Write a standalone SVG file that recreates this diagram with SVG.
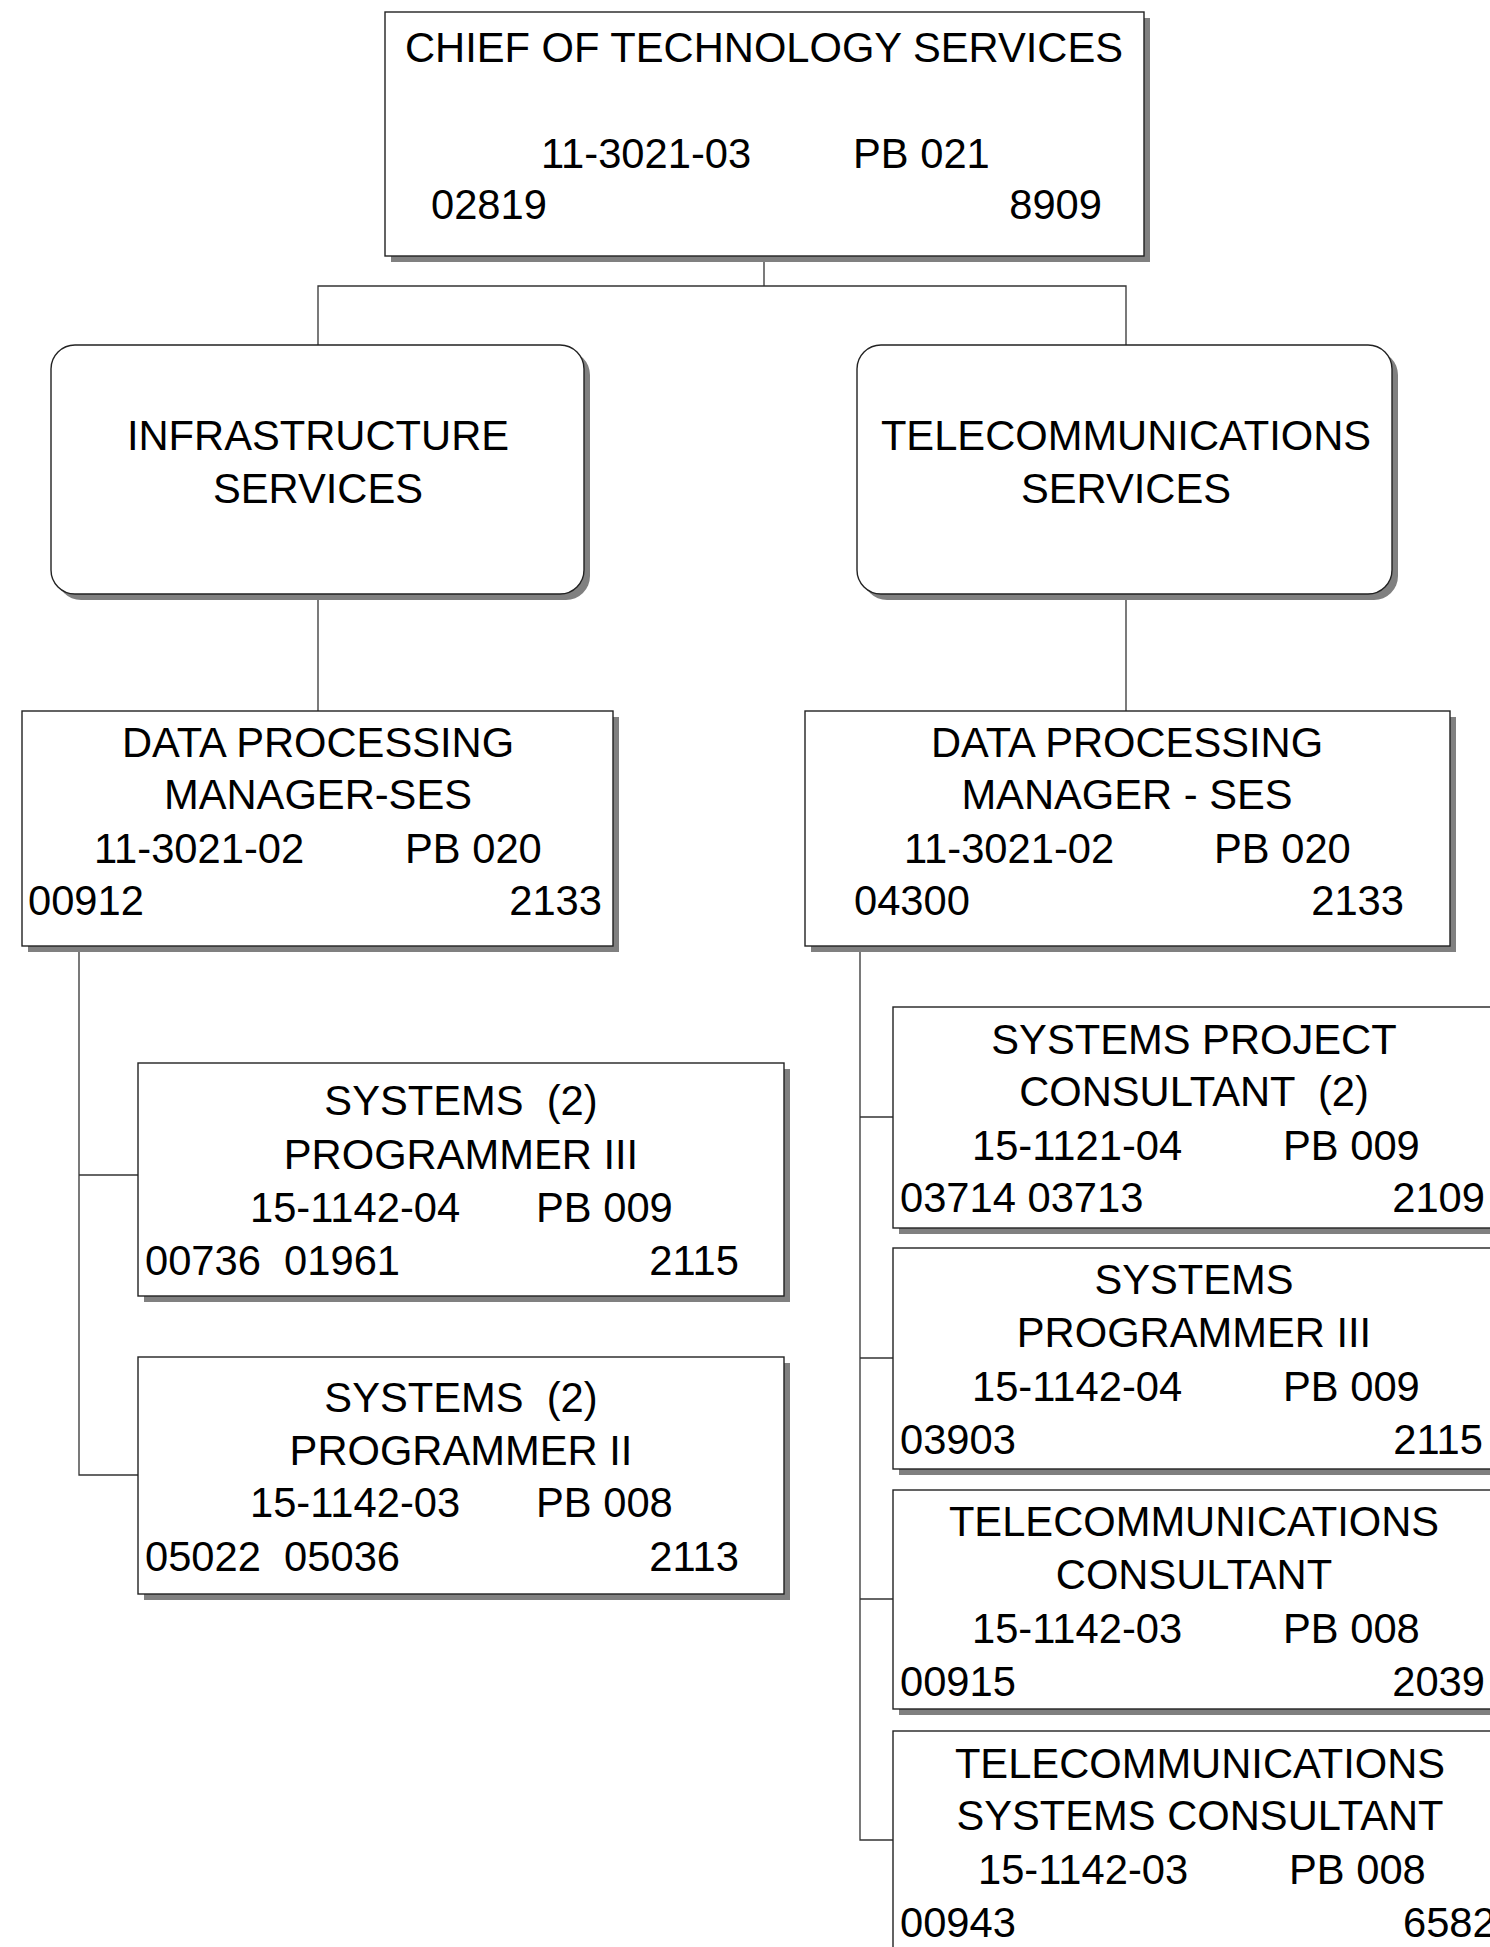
<svg xmlns="http://www.w3.org/2000/svg" width="1490" height="1947" viewBox="0 0 1490 1947">
  <style>
    .shadow { fill: #808080; stroke: none; }
    .box { fill: #ffffff; stroke: #222222; stroke-width: 1.4; }
    .link { fill: none; stroke: #333333; stroke-width: 1.3; }
    text { font-family: "Liberation Sans", Arial, sans-serif; font-size: 41.7px; fill: #000000; }
    .c { text-anchor: middle; }
    .r { text-anchor: end; }
  </style>
  <rect width="1490" height="1947" fill="#ffffff"/>

  <!-- reporting lines -->
  <g id="connectors">
    <polyline class="link" points="764,256 764,286"/>
    <polyline class="link" points="318,345 318,286 1126,286 1126,345"/>
    <polyline class="link" points="318,594 318,711"/>
    <polyline class="link" points="1126,594 1126,711"/>
    <polyline class="link" points="79,946 79,1475 138,1475"/>
    <polyline class="link" points="79,1175 138,1175"/>
    <polyline class="link" points="860,946 860,1840 893,1840"/>
    <polyline class="link" points="860,1117 893,1117"/>
    <polyline class="link" points="860,1358 893,1358"/>
    <polyline class="link" points="860,1599 893,1599"/>
  </g>

  <g id="chief-technology-services">
    <rect class="shadow" x="391" y="18" width="759" height="244"/>
    <rect class="box" x="385" y="12" width="759" height="244"/>
    <text class="c" x="764" y="62">CHIEF OF TECHNOLOGY SERVICES</text>
    <text x="541" y="168">11-3021-03</text>
    <text x="853" y="168">PB 021</text>
    <text x="431" y="219">02819</text>
    <text class="r" x="1102" y="219">8909</text>
  </g>

  <g id="infrastructure-services">
    <rect class="shadow" x="57" y="351" width="533" height="249" rx="24"/>
    <rect class="box" x="51" y="345" width="533" height="249" rx="24"/>
    <text class="c" x="318" y="450">INFRASTRUCTURE</text>
    <text class="c" x="318" y="503">SERVICES</text>
  </g>

  <g id="telecommunications-services">
    <rect class="shadow" x="863" y="351" width="535" height="249" rx="24"/>
    <rect class="box" x="857" y="345" width="535" height="249" rx="24"/>
    <text class="c" x="1126" y="450">TELECOMMUNICATIONS</text>
    <text class="c" x="1126" y="503">SERVICES</text>
  </g>

  <g id="dp-manager-infrastructure">
    <rect class="shadow" x="28" y="717" width="591" height="235"/>
    <rect class="box" x="22" y="711" width="591" height="235"/>
    <text class="c" x="318" y="757">DATA PROCESSING</text>
    <text class="c" x="318" y="809">MANAGER-SES</text>
    <text x="94" y="863">11-3021-02</text>
    <text x="405" y="863">PB 020</text>
    <text x="28" y="915">00912</text>
    <text class="r" x="602" y="915">2133</text>
  </g>

  <g id="dp-manager-telecom">
    <rect class="shadow" x="811" y="717" width="645" height="235"/>
    <rect class="box" x="805" y="711" width="645" height="235"/>
    <text class="c" x="1127" y="757">DATA PROCESSING</text>
    <text class="c" x="1127" y="809">MANAGER - SES</text>
    <text x="904" y="863">11-3021-02</text>
    <text x="1214" y="863">PB 020</text>
    <text x="854" y="915">04300</text>
    <text class="r" x="1404" y="915">2133</text>
  </g>

  <g id="systems-programmer-iii-infra">
    <rect class="shadow" x="144" y="1069" width="646" height="233"/>
    <rect class="box" x="138" y="1063" width="646" height="233"/>
    <text class="c" x="461" y="1115" xml:space="preserve">SYSTEMS  (2)</text>
    <text class="c" x="461" y="1169">PROGRAMMER III</text>
    <text x="250" y="1222">15-1142-04</text>
    <text x="536" y="1222">PB 009</text>
    <text x="145" y="1275" xml:space="preserve">00736  01961</text>
    <text class="r" x="739" y="1275">2115</text>
  </g>

  <g id="systems-programmer-ii-infra">
    <rect class="shadow" x="144" y="1363" width="646" height="237"/>
    <rect class="box" x="138" y="1357" width="646" height="237"/>
    <text class="c" x="461" y="1412" xml:space="preserve">SYSTEMS  (2)</text>
    <text class="c" x="461" y="1465">PROGRAMMER II</text>
    <text x="250" y="1517">15-1142-03</text>
    <text x="536" y="1517">PB 008</text>
    <text x="145" y="1571" xml:space="preserve">05022  05036</text>
    <text class="r" x="739" y="1571">2113</text>
  </g>

  <g id="systems-project-consultant">
    <rect class="shadow" x="899" y="1013" width="607" height="221"/>
    <rect class="box" x="893" y="1007" width="607" height="221"/>
    <text class="c" x="1194" y="1054">SYSTEMS PROJECT</text>
    <text class="c" x="1194" y="1106" xml:space="preserve">CONSULTANT  (2)</text>
    <text x="972" y="1160">15-1121-04</text>
    <text x="1283" y="1160">PB 009</text>
    <text x="900" y="1212">03714 03713</text>
    <text class="r" x="1485" y="1212">2109</text>
  </g>

  <g id="systems-programmer-iii-telecom">
    <rect class="shadow" x="899" y="1254" width="607" height="221"/>
    <rect class="box" x="893" y="1248" width="607" height="221"/>
    <text class="c" x="1194" y="1294">SYSTEMS</text>
    <text class="c" x="1194" y="1347">PROGRAMMER III</text>
    <text x="972" y="1401">15-1142-04</text>
    <text x="1283" y="1401">PB 009</text>
    <text x="900" y="1454">03903</text>
    <text class="r" x="1483" y="1454">2115</text>
  </g>

  <g id="telecommunications-consultant">
    <rect class="shadow" x="899" y="1496" width="607" height="219"/>
    <rect class="box" x="893" y="1490" width="607" height="219"/>
    <text class="c" x="1194" y="1536">TELECOMMUNICATIONS</text>
    <text class="c" x="1194" y="1589">CONSULTANT</text>
    <text x="972" y="1643">15-1142-03</text>
    <text x="1283" y="1643">PB 008</text>
    <text x="900" y="1696">00915</text>
    <text class="r" x="1485" y="1696">2039</text>
  </g>

  <g id="telecommunications-systems-consultant">
    <rect class="shadow" x="899" y="1737" width="620" height="230"/>
    <rect class="box" x="893" y="1731" width="620" height="230"/>
    <text class="c" x="1200" y="1778">TELECOMMUNICATIONS</text>
    <text class="c" x="1200" y="1830">SYSTEMS CONSULTANT</text>
    <text x="978" y="1884">15-1142-03</text>
    <text x="1289" y="1884">PB 008</text>
    <text x="900" y="1937">00943</text>
    <text x="1403" y="1937">6582</text>
  </g>
</svg>
